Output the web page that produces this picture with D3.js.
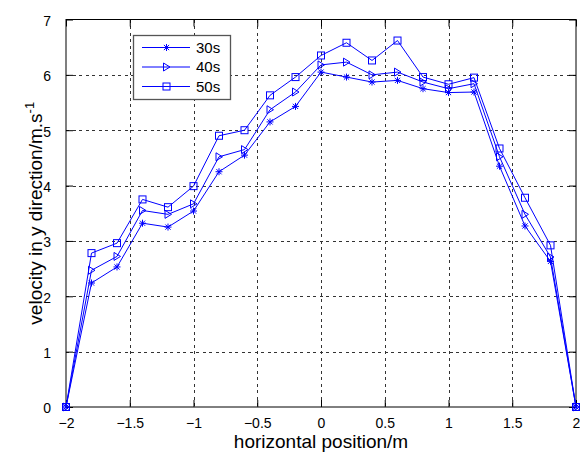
<!DOCTYPE html>
<html>
<head>
<meta charset="utf-8">
<script src="https://cdn.jsdelivr.net/npm/d3@7"></script>
<style>
  html, body { margin: 0; padding: 0; background: #fff; }
  svg text { font-family: "Liberation Sans", Arial, sans-serif; fill: #000; }
</style>
</head>
<body>
<svg id="chart" width="580" height="453"></svg>
<script>
// ---- data ----
const positions = [-2, -1.8, -1.6, -1.4, -1.2, -1, -0.8, -0.6, -0.4, -0.2, 0, 0.2, 0.4, 0.6, 0.8, 1, 1.2, 1.4, 1.6, 1.8, 2];
const v30 = [0, 2.24, 2.53, 3.32, 3.25, 3.54, 4.25, 4.55, 5.15, 5.43, 6.05, 5.96, 5.87, 5.90, 5.75, 5.68, 5.69, 4.35, 3.27, 2.63, 0];
const v40 = [0, 2.47, 2.72, 3.55, 3.48, 3.67, 4.52, 4.65, 5.37, 5.69, 6.18, 6.23, 6.00, 6.05, 5.87, 5.75, 5.84, 4.52, 3.48, 2.71, 0];
const v50 = [0, 2.78, 2.96, 3.75, 3.61, 3.99, 4.90, 5.00, 5.63, 5.96, 6.35, 6.58, 6.26, 6.62, 5.96, 5.83, 5.95, 4.67, 3.78, 2.92, 0];
const seriesNames = ["30s", "40s", "50s"];
const seriesMarkers = ["star", "triangle", "square"];
const xTicks = [-2, -1.5, -1, -0.5, 0, 0.5, 1, 1.5, 2];
const yTicks = [0, 1, 2, 3, 4, 5, 6, 7];
const xLabel = "horizontal position/m";
const yLabel = "velocity in y direction/m.s";
const yLabelSup = "-1";

const series = [v30, v40, v50].map((vals, i) => ({
  name: seriesNames[i], marker: seriesMarkers[i],
  points: positions.map((x, j) => ({x, y: vals[j]}))
}));

// ---- layout ----
const L = 66, R = 576, T = 19.5, B = 407;
const blue = "#0000ff";
const svg = d3.select("#chart");
const x = d3.scaleLinear().domain([-2, 2]).range([L, R]);
const y = d3.scaleLinear().domain([0, 7]).range([B, T]);

// grid
const grid = svg.append("g").attr("stroke", "#333").attr("stroke-width", 1)
  .attr("stroke-dasharray", "3,3.5").attr("shape-rendering", "crispEdges");
grid.selectAll("line.gx").data(xTicks.slice(1, -1)).join("line")
  .attr("x1", d => Math.round(x(d)) + 0.5).attr("x2", d => Math.round(x(d)) + 0.5)
  .attr("y1", T).attr("y2", B);
grid.selectAll("line.gy").data(yTicks.slice(1, -1)).join("line")
  .attr("y1", d => Math.round(y(d)) + 0.5).attr("y2", d => Math.round(y(d)) + 0.5)
  .attr("x1", L).attr("x2", R);

// axes (ticks inside)
const tickLen = 7;
const xAxisB = d3.axisBottom(x).tickValues(xTicks).tickSize(-tickLen).tickPadding(tickLen + 4).tickFormat(d3.format(""));
const xAxisT = d3.axisTop(x).tickValues(xTicks).tickSize(-tickLen).tickFormat("");
const yAxisL = d3.axisLeft(y).tickValues(yTicks).tickSize(-tickLen).tickPadding(tickLen + 8).tickFormat(d3.format(""));
const yAxisR = d3.axisRight(y).tickValues(yTicks).tickSize(-tickLen).tickFormat("");

function styleAxis(g) {
  g.select(".domain").remove();
  g.selectAll(".tick line").attr("stroke", "#000");
  g.selectAll("text").attr("font-size", 14).attr("fill", "#000")
    .attr("font-family", "'Liberation Sans', Arial, sans-serif");
}
svg.append("g").attr("transform", `translate(0,${B})`).call(xAxisB).call(styleAxis)
  .selectAll("text").attr("dy", "0.72em");
svg.append("g").attr("transform", `translate(0,${T})`).call(xAxisT).call(styleAxis);
svg.append("g").attr("transform", `translate(${L},0)`).call(yAxisL).call(styleAxis)
  .selectAll("text").attr("dy", "0.42em");
svg.append("g").attr("transform", `translate(${R},0)`).call(yAxisR).call(styleAxis);

// box
svg.append("rect").attr("x", L).attr("y", T).attr("width", R - L).attr("height", B - T)
  .attr("fill", "none").attr("stroke", "#000").attr("stroke-width", 1);

// markers
function drawMarker(g, type, cx, cy) {
  if (type === "square") {
    g.append("rect").attr("x", cx - 3.5).attr("y", cy - 3.5).attr("width", 7).attr("height", 7)
      .attr("fill", "none").attr("stroke", blue);
  } else if (type === "triangle") {
    g.append("path").attr("d", `M${cx - 3},${cy - 4}L${cx + 3.5},${cy}L${cx - 3},${cy + 4}Z`)
      .attr("fill", "none").attr("stroke", blue);
  } else {
    const r = 3.5, d = 2.6;
    g.append("path").attr("d",
      `M${cx},${cy - r}L${cx},${cy + r}M${cx - r},${cy}L${cx + r},${cy}` +
      `M${cx - d},${cy - d}L${cx + d},${cy + d}M${cx - d},${cy + d}L${cx + d},${cy - d}`)
      .attr("fill", "none").attr("stroke", blue);
  }
}

const line = d3.line().x(d => x(d.x)).y(d => y(d.y));
series.forEach(s => {
  const g = svg.append("g");
  g.append("path").datum(s.points).attr("d", line)
    .attr("fill", "none").attr("stroke", blue).attr("stroke-width", 1);
  s.points.forEach(p => drawMarker(g, s.marker, x(p.x), y(p.y)));
});

// labels
svg.append("text").attr("x", (L + R) / 2).attr("y", 448).attr("text-anchor", "middle")
  .attr("font-size", 19).text(xLabel);
const yl = svg.append("text").attr("transform", `translate(42,${(T + B) / 2}) rotate(-90)`)
  .attr("text-anchor", "middle").attr("font-size", 19);
yl.append("tspan").text(yLabel);
yl.append("tspan").attr("font-size", 13).attr("dy", -8).text(yLabelSup);

// legend
const lg = svg.append("g");
lg.append("rect").attr("x", 133.5).attr("y", 35.5).attr("width", 97).attr("height", 64)
  .attr("fill", "#fff").attr("stroke", "#555").attr("stroke-width", 1.3);
const rowsY = [47.5, 67, 86.5];
series.forEach((s, i) => {
  const ry = rowsY[i];
  lg.append("line").attr("x1", 142).attr("x2", 190).attr("y1", ry).attr("y2", ry)
    .attr("stroke", blue).attr("stroke-width", 1);
  drawMarker(lg, s.marker, 166.5, ry);
  lg.append("text").attr("x", 196).attr("y", ry).attr("dy", "0.36em")
    .attr("font-size", 15).text(s.name);
});
</script>
</body>
</html>
